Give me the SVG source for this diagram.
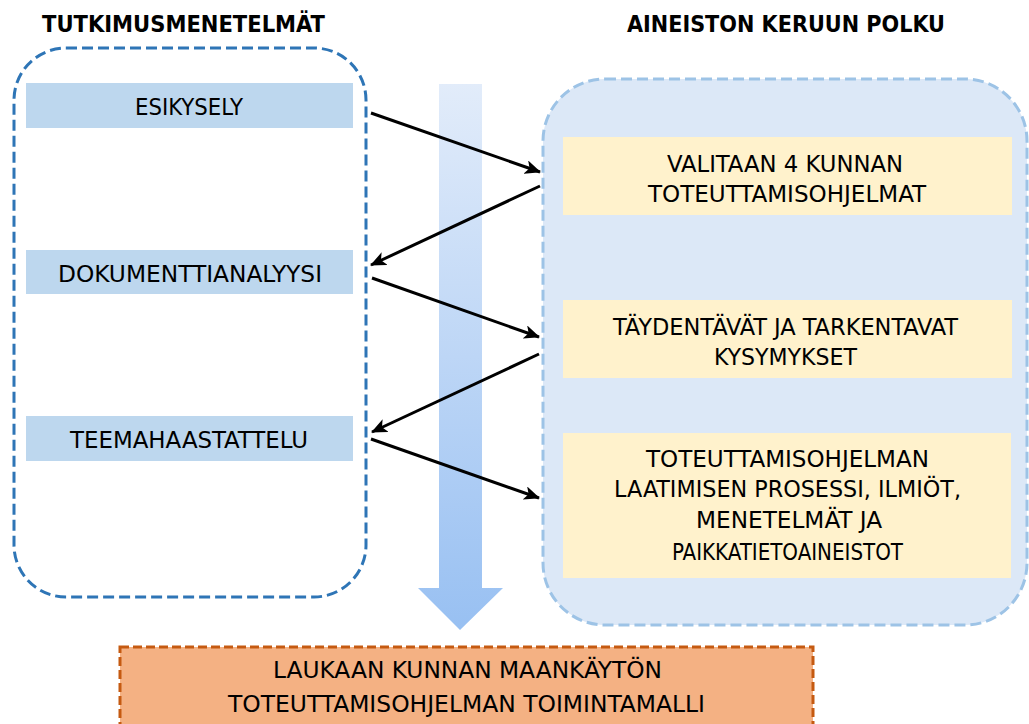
<svg xmlns="http://www.w3.org/2000/svg" width="1029" height="724" viewBox="0 0 1029 724">
<style>
.t{font-family:"DejaVu Sans Condensed","Liberation Sans",Arial,sans-serif;font-size:23px;fill:#000}
.h{font-family:"DejaVu Sans Condensed","Liberation Sans",Arial,sans-serif;font-size:23px;font-weight:bold;fill:#000}
.m{fill:#bdd7ee}
.y{fill:#fff2cc}
.c{stroke:#000;stroke-width:3;fill:none;marker-end:url(#ah)}
</style>
<defs>
<marker id="ah" markerUnits="userSpaceOnUse" markerWidth="18" markerHeight="14" refX="15" refY="7" orient="auto">
<path d="M0,0 L16,7 L0,14 L4,7 Z" fill="#000"/>
</marker>
<linearGradient id="g" x1="0" y1="0" x2="0" y2="1">
<stop offset="0" stop-color="#e2ecfa"/>
<stop offset="1" stop-color="#98c0f2"/>
</linearGradient>
</defs>
<rect width="1029" height="724" fill="#fff"/>
<g id="titles">
<text class="h" x="42" y="32" textLength="283" lengthAdjust="spacingAndGlyphs">TUTKIMUSMENETELMÄT</text>
<text class="h" x="627" y="32" textLength="318" lengthAdjust="spacingAndGlyphs">AINEISTON KERUUN POLKU</text>
</g>
<g id="flow-arrow">
<path d="M439,84 H482 V588 H503 L460,630 L418,588 H439 Z" fill="url(#g)"/>
</g>
<g id="methods">
<rect x="14" y="48" width="352" height="549" rx="52" fill="none" stroke="#2e75b6" stroke-width="3" stroke-dasharray="11 5"/>
</g>
<g id="path-container">
<rect x="543" y="79" width="484" height="546" rx="62" fill="#dce8f7" stroke="#9dc3e6" stroke-width="3" stroke-dasharray="11 5"/>
</g>
<g id="esikysely">
<rect class="m" x="26" y="83" width="327" height="45"/>
<text class="t" x="135" y="115" textLength="108" lengthAdjust="spacingAndGlyphs">ESIKYSELY</text>
</g>
<g id="dokumenttianalyysi">
<rect class="m" x="26" y="250" width="327" height="44"/>
<text class="t" x="58" y="282" textLength="264" lengthAdjust="spacingAndGlyphs">DOKUMENTTIANALYYSI</text>
</g>
<g id="teemahaastattelu">
<rect class="m" x="26" y="416" width="327" height="45"/>
<text class="t" x="70" y="448" textLength="238" lengthAdjust="spacingAndGlyphs">TEEMAHAASTATTELU</text>
</g>
<g id="valitaan">
<rect class="y" x="563" y="137" width="449" height="78"/>
<text class="t" x="667" y="172" textLength="236" lengthAdjust="spacingAndGlyphs">VALITAAN 4 KUNNAN</text>
<text class="t" x="648" y="202" textLength="278" lengthAdjust="spacingAndGlyphs">TOTEUTTAMISOHJELMAT</text>
</g>
<g id="taydentavat">
<rect class="y" x="563" y="300" width="449" height="78"/>
<text class="t" x="613" y="335" textLength="345" lengthAdjust="spacingAndGlyphs">TÄYDENTÄVÄT JA TARKENTAVAT</text>
<text class="t" x="714" y="365" textLength="143" lengthAdjust="spacingAndGlyphs">KYSYMYKSET</text>
</g>
<g id="prosessi">
<rect class="y" x="563" y="433" width="448" height="145"/>
<text class="t" x="646" y="467" textLength="283" lengthAdjust="spacingAndGlyphs">TOTEUTTAMISOHJELMAN</text>
<text class="t" x="614" y="497" textLength="347" lengthAdjust="spacingAndGlyphs">LAATIMISEN PROSESSI, ILMIÖT,</text>
<text class="t" x="696" y="528" textLength="186" lengthAdjust="spacingAndGlyphs">MENETELMÄT JA</text>
<text class="t" x="672" y="560" textLength="231" lengthAdjust="spacingAndGlyphs">PAIKKATIETOAINEISTOT</text>
</g>
<g id="toimintamalli">
<rect x="120" y="647" width="693" height="90" fill="#f4b183" stroke="#c55a11" stroke-width="3" stroke-dasharray="9 4"/>
<text class="t" x="273" y="678" textLength="389" lengthAdjust="spacingAndGlyphs">LAUKAAN KUNNAN MAANKÄYTÖN</text>
<text class="t" x="228" y="712" textLength="477" lengthAdjust="spacingAndGlyphs">TOTEUTTAMISOHJELMAN TOIMINTAMALLI</text>
</g>
<g id="connectors">
<line class="c" x1="371" y1="113" x2="540" y2="172"/>
<line class="c" x1="540" y1="186" x2="371" y2="265"/>
<line class="c" x1="372" y1="278" x2="539" y2="337"/>
<line class="c" x1="539" y1="354" x2="372" y2="432"/>
<line class="c" x1="371" y1="439" x2="539" y2="498"/>
</g>
</svg>
